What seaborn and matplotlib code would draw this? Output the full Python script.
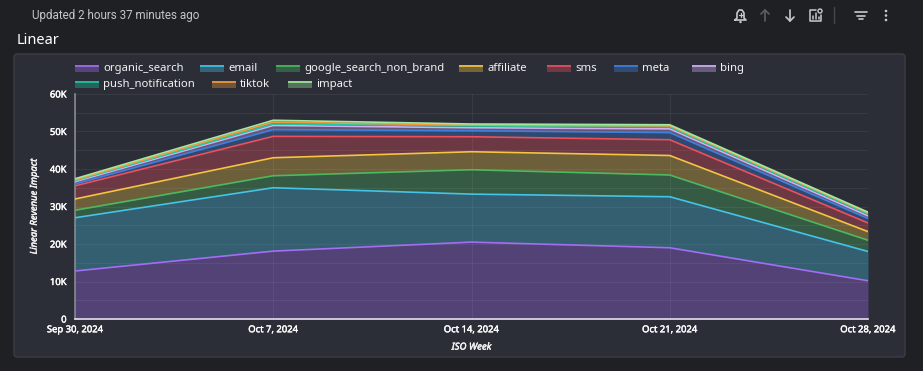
import numpy as np
import pandas as pd
import matplotlib
matplotlib.use('Agg')
import matplotlib.pyplot as plt
import matplotlib.patheffects as pe
from matplotlib.patches import FancyBboxPatch, Rectangle, Circle
import seaborn as sns

weeks = ['Sep 30, 2024', 'Oct 7, 2024', 'Oct 14, 2024', 'Oct 21, 2024', 'Oct 28, 2024']
channels = ['organic_search', 'email', 'google_search_non_brand', 'affiliate', 'sms',
            'meta', 'bing', 'push_notification', 'tiktok', 'impact']
organic_search = [12800, 18100, 20500, 19000, 10200]
email = [14200, 16900, 12800, 13600, 7800]
google_search_non_brand = [2000, 3200, 6500, 5800, 3000]
affiliate = [3000, 4800, 4800, 5200, 2300]
sms = [3500, 5700, 4000, 4200, 2300]
meta = [500, 1800, 1600, 1900, 1200]
bing = [600, 1100, 800, 1000, 700]
push_notification = [300, 400, 500, 500, 500]
tiktok = [200, 500, 200, 300, 300]
impact = [300, 500, 300, 300, 200]
series = [organic_search, email, google_search_non_brand, affiliate, sms,
          meta, bing, push_notification, tiktok, impact]
colors = ['#a56cf5', '#45c4e8', '#4cb860', '#f5c542', '#ee4f5c',
          '#3f7fe0', '#d3aef5', '#1fc9a6', '#f59a3c', '#a3e8a0']

W, H = 923, 371
BG = '#1f2024'
PANEL = '#2b2e37'
TXT = '#f2f2f2'
sns.set_theme(style='dark')
plt.rcParams['font.family'] = ['Noto Sans', 'DejaVu Sans']
heavy = [pe.withStroke(linewidth=0.3, foreground='#ffffff')]

fig = plt.figure(figsize=(W / 100, H / 100), dpi=100, facecolor=BG)

# page furniture, drawn in pixel coordinates
bg = fig.add_axes([0, 0, 1, 1], zorder=0)
bg.set_xlim(0, W)
bg.set_ylim(H, 0)
bg.axis('off')
bg.add_patch(FancyBboxPatch((14, 54), 891, 303, boxstyle='round,pad=0,rounding_size=3',
                            fc=PANEL, ec='#3a3d46', lw=1))
bg.text(32, 15.5, 'Updated 2 hours 37 minutes ago', color='#c4c6ca', fontsize=8.4,
        family='Roboto', va='center')
bg.text(17, 40, 'Linear', color='#ffffff', fontsize=10.5, va='center')

# toolbar icons
ic = '#c8c9cc'
bg.plot([735, 737, 737, 739, 742, 744, 744, 746, 735],
        [20, 18, 13, 10, 10, 13, 18, 20, 20], color=ic, lw=1.2)
bg.plot([740.5, 740.5], [12.5, 17], color=ic, lw=0.9)
bg.plot([738.5, 742.5], [14.8, 14.8], color=ic, lw=0.9)
bg.add_patch(Circle((740.5, 22), 1.2, fc=ic, ec='none'))
for x0, col, tip, tail in [(765, '#5d5f63', 10, 21), (790, ic, 21, 10)]:
    bg.plot([x0, x0], [tip, tail], color=col, lw=1.2)
    d = 4 if tip < tail else -4
    bg.plot([x0 - 4, x0, x0 + 4], [tip + d, tip, tip + d], color=col, lw=1.2)
bg.plot([816, 810, 810, 821, 821], [10, 10, 21, 21, 15], color=ic, lw=1.1)
for x0, top in [(813, 16), (816, 13), (819, 17)]:
    bg.plot([x0, x0], [19, top], color=ic, lw=1.1)
bg.add_patch(Circle((820, 11), 2, fc='none', ec=ic, lw=1))
bg.plot([834, 834], [7, 23], color='#46484d', lw=1)
for half, y0 in [(6, 12), (4, 15.5), (2, 19)]:
    bg.plot([861 - half, 861 + half], [y0, y0], color=ic, lw=1.2)
for y0 in [11, 15.5, 20]:
    bg.add_patch(Circle((886, y0), 1.3, fc=ic, ec='none'))

# legend: two free-flowing rows as in the source
legend_pos = [(75, 69), (200, 69), (276, 69), (459, 69), (547, 69), (614, 69), (692, 69),
              (75, 85), (212, 85), (288, 85)]
for name, col, (lx, ly) in zip(channels, colors, legend_pos):
    bg.add_patch(Rectangle((lx, ly - 4), 24, 7, fc=col, alpha=0.36, ec='none'))
    bg.plot([lx, lx + 24], [ly - 3.5, ly - 3.5], color=col, lw=1.2, solid_capstyle='butt')
    bg.text(lx + 28, ly - 0.5, name, color=TXT, fontsize=8.1, va='center')

# chart
ax = fig.add_axes([75 / W, 1 - 319 / H, (868 - 75) / W, (319 - 94) / H], zorder=1)
ax.set_facecolor(PANEL)
pos = np.arange(len(weeks))
stack = np.cumsum(np.array(series), axis=0)
df = pd.DataFrame(stack.T, columns=channels)
df['week'] = pos
long_df = df.melt(id_vars='week', var_name='channel', value_name='cum')

lower = np.zeros(len(weeks))
for i, col in enumerate(colors):
    ax.fill_between(pos, lower, stack[i], color=col, alpha=0.33, lw=0, zorder=2)
    lower = stack[i]
sns.lineplot(data=long_df, x='week', y='cum', hue='channel', hue_order=channels,
             palette=colors, lw=1.2, legend=False, ax=ax, zorder=3)

ax.set_xlim(0, 4)
ax.set_ylim(0, 60000)
ax.set_yticks(np.arange(0, 60001, 10000))
ax.set_yticklabels(['0', '10K', '20K', '30K', '40K', '50K', '60K'])
ax.set_yticks(np.arange(5000, 60000, 10000), minor=True)
ax.set_xticks(pos)
ax.set_xticklabels(weeks)
ax.grid(True, which='both', color='#ffffff', alpha=0.06, lw=0.8, zorder=4)
ax.set_axisbelow(False)
ax.tick_params(axis='both', which='both', length=0, colors='#ffffff', labelsize=6.8)
ax.tick_params(axis='x', pad=4.5)
ax.tick_params(axis='y', pad=6)
for lab in ax.get_xticklabels() + ax.get_yticklabels():
    lab.set_path_effects(heavy)
for side in ['top', 'right']:
    ax.spines[side].set_visible(False)
ax.spines['left'].set_color('#85868c')
ax.spines['left'].set_linewidth(1.2)
ax.spines['bottom'].set_color('#e4e2ea')
ax.spines['bottom'].set_linewidth(1.2)
ax.set_xlabel('ISO Week', color=TXT, fontsize=6.9, style='italic', labelpad=6)
ax.set_ylabel('Linear Revenue Impact', color=TXT, fontsize=6.8, style='italic', labelpad=8)
ax.xaxis.label.set_path_effects(heavy)
ax.yaxis.label.set_path_effects(heavy)

fig.savefig('out.png', dpi=100, facecolor=BG)
